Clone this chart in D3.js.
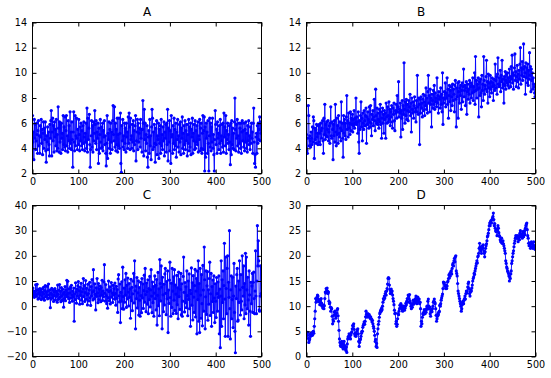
<!DOCTYPE html>
<html><head><meta charset="utf-8">
<script src="https://cdnjs.cloudflare.com/ajax/libs/d3/7.8.5/d3.min.js"></script>
<style>html,body{margin:0;padding:0;background:#fff}svg{display:block}</style>
</head><body>
<svg id="chart" width="551" height="378"></svg>
<script>
const titles = ["A","B","C","D"];
const xTicks = [0,100,200,300,400,500];
const yTicksA = [2,4,6,8,10,12,14];
const yTicksB = [2,4,6,8,10,12,14];
const yTicksC = [-20,-10,0,10,20,30,40];
const yTicksD = [0,5,10,15,20,25,30];

const seriesA = [
6.6,4.5,5.3,3.1,6.3,4.8,5.9,3.9,4.6,6.0,5.1,3.6,5.4,6.2,4.2,5.0,3.6,5.8,4.9,6.3,
4.4,5.5,3.5,5.2,6.1,4.0,5.6,4.7,6.1,3.8,2.9,5.0,4.5,5.7,3.9,5.3,4.3,3.4,5.9,4.8,
6.2,7.0,3.4,5.3,6.4,4.6,5.8,3.7,6.1,4.9,5.5,4.2,6.3,3.8,5.1,4.0,7.3,5.6,3.7,6.1,
4.5,5.9,3.6,6.0,4.8,5.2,3.9,6.6,4.3,5.7,4.1,6.5,3.8,5.4,6.6,4.2,5.0,3.7,6.2,4.6,
5.8,4.0,6.9,4.4,5.3,3.9,6.1,4.7,2.5,5.3,6.9,4.5,3.8,6.6,4.2,5.0,6.4,4.8,3.9,5.5,
4.3,6.3,5.1,3.8,5.7,4.6,6.0,4.2,5.4,3.9,5.8,4.4,6.1,4.9,3.8,5.2,4.5,6.0,4.0,7.2,
3.7,6.4,4.7,5.6,6.7,4.3,2.5,3.9,5.0,6.2,4.1,5.8,3.7,6.1,4.6,5.2,7.0,5.9,4.4,6.2,
3.9,5.3,4.8,6.0,2.8,5.6,3.6,5.1,6.3,4.5,4.0,5.7,4.1,6.0,3.8,5.4,4.9,6.2,4.3,5.0,
3.6,2.6,4.4,6.6,3.2,5.2,4.7,6.1,4.0,5.5,3.6,6.0,4.5,5.3,3.9,6.2,7.4,5.1,4.6,7.3,
4.1,6.0,3.8,5.5,4.3,6.4,3.7,5.1,4.2,6.4,4.0,5.2,6.8,2.8,2.1,5.8,4.6,6.3,4.1,5.0,
3.9,6.0,4.4,5.6,3.7,6.0,4.9,5.3,4.0,6.5,4.4,6.8,5.7,3.9,6.4,4.7,5.0,4.0,5.9,4.5,
6.2,3.8,5.4,4.3,5.8,6.6,3.0,4.6,5.3,6.3,3.9,6.0,4.5,5.2,5.6,4.1,6.3,4.8,5.5,3.7,
5.5,7.8,6.0,3.4,7.1,4.7,6.0,3.8,5.1,4.4,5.8,3.3,2.5,4.9,5.4,3.6,6.3,4.2,5.0,3.1,
5.7,7.1,6.4,3.9,5.3,4.1,5.9,4.4,2.9,5.6,4.3,6.2,3.5,5.0,4.7,6.0,3.2,5.5,4.4,5.8,
3.6,6.3,4.2,5.1,3.9,5.7,4.6,6.1,3.4,5.3,4.8,5.9,3.7,6.0,4.3,7.1,3.0,5.6,4.5,6.2,
3.8,5.4,2.8,6.6,4.9,5.1,3.6,5.8,4.4,6.4,3.9,5.5,4.2,6.0,3.3,5.3,4.7,6.3,4.1,5.0,
3.7,5.9,4.5,6.1,3.5,5.6,4.8,6.5,4.0,5.2,3.6,5.8,4.3,6.2,3.9,5.4,4.6,5.9,3.4,5.1,
4.4,6.3,3.8,5.7,4.1,6.0,3.5,5.5,4.9,6.4,3.6,5.2,4.6,5.9,3.9,6.2,4.0,5.4,4.5,5.8,
4.3,6.1,3.7,5.0,4.7,6.3,3.8,5.6,6.0,4.0,3.6,5.2,6.6,3.9,5.4,6.5,2.2,5.7,3.3,6.0,
4.8,5.3,3.6,6.2,4.4,2.2,5.0,6.4,4.1,6.0,3.8,5.7,4.5,6.4,4.0,5.1,3.5,2.2,4.7,7.0,
5.9,4.3,5.5,3.6,6.1,4.8,5.2,3.9,5.8,4.4,6.3,3.6,5.0,4.6,5.9,4.1,6.0,3.7,6.8,4.9,
5.7,4.2,6.6,3.6,5.4,4.7,6.0,4.4,5.1,3.9,5.8,4.5,2.7,6.0,3.5,6.2,4.3,5.6,4.0,5.2,
3.9,6.1,8.0,5.5,3.8,5.9,4.8,6.3,4.2,5.0,3.7,6.0,4.4,5.6,4.0,6.0,3.6,5.3,6.2,4.6,
5.4,4.1,6.0,3.8,5.5,4.5,6.1,4.0,5.2,3.7,5.8,4.6,6.2,4.3,5.0,3.9,5.7,4.4,6.0,4.8,
5.3,3.6,6.0,7.2,4.5,2.8,3.5,2.5,4.9,5.2,3.6,5.8,4.4,6.0,4.7,5.5,6.5,4.6,6.1,5.2
];

const seriesB = [
5.1,3.8,3.6,4.8,7.4,6.6,4.2,5.0,4.6,4.1,5.3,4.8,4.3,5.7,4.5,6.5,6.2,3.2,5.6,4.7,
5.5,4.4,5.9,4.9,5.2,4.3,5.8,4.5,5.9,5.2,4.3,6.0,5.4,4.8,5.6,6.2,4.6,3.6,6.4,5.1,
7.5,4.7,5.9,5.0,6.1,4.9,5.5,6.2,4.6,5.3,5.8,4.4,6.0,7.3,5.0,4.8,6.1,5.5,3.1,5.9,
5.0,6.2,4.5,7.5,5.3,4.2,6.4,5.1,5.8,4.4,6.6,5.2,4.9,6.1,5.6,4.6,7.7,5.4,6.0,4.8,
3.3,6.6,5.2,6.3,5.0,6.0,4.7,6.5,8.2,5.5,6.2,4.9,6.8,5.6,6.0,5.1,6.9,5.4,6.4,5.9,
6.7,5.3,6.3,5.8,7.0,5.6,6.4,6.0,8.0,5.9,6.5,6.1,5.2,6.9,4.5,3.6,6.2,5.5,6.6,7.7,
5.7,6.4,4.6,6.8,6.0,5.5,7.0,6.2,5.8,6.6,7.2,4.4,6.5,5.9,6.9,6.3,5.6,7.3,6.1,5.7,
7.4,6.0,5.0,6.7,6.3,7.0,5.8,6.5,7.9,6.2,5.4,8.7,6.6,6.0,7.2,5.9,6.8,6.3,5.6,7.1,
6.1,7.5,5.9,6.9,4.8,6.4,7.2,6.0,6.7,5.2,7.0,6.3,6.8,4.8,7.6,6.5,6.0,7.3,6.6,6.1,
7.7,6.3,7.1,5.8,6.9,6.5,7.4,6.1,5.6,7.2,6.7,7.6,6.2,5.4,7.0,6.8,7.5,6.4,8.2,6.9,
7.3,9.3,6.5,7.1,6.8,7.6,4.9,7.0,6.4,7.8,5.5,7.4,6.7,10.8,7.1,6.0,7.7,6.6,7.9,6.3,
7.5,7.0,6.2,7.8,6.9,7.3,8.3,6.6,7.6,5.3,8.0,7.1,6.8,7.7,6.4,7.4,8.1,6.9,7.2,6.1,
7.8,6.9,9.8,7.3,6.7,8.0,7.5,4.3,7.9,6.8,8.1,7.2,7.6,6.5,7.9,8.3,7.0,7.7,6.6,8.2,
7.4,8.8,7.1,8.0,6.8,8.5,9.8,7.6,8.2,6.9,8.7,7.5,8.0,5.7,8.3,7.8,7.2,8.6,7.5,9.0,
7.1,8.4,7.7,8.0,7.3,9.6,7.6,8.2,6.8,8.5,7.9,8.1,7.2,8.8,7.5,8.3,6.9,10.0,5.9,8.0,
7.6,8.5,7.9,9.2,7.3,8.4,8.0,9.6,7.5,8.7,6.4,8.2,9.0,7.7,8.6,7.0,8.9,8.1,7.4,9.1,
7.8,8.7,8.3,6.9,9.0,9.4,7.9,5.7,8.8,8.1,9.2,6.4,8.5,9.3,7.6,8.8,8.2,9.0,7.1,8.6,
9.2,7.7,8.9,10.3,8.1,8.6,9.0,7.4,8.8,9.3,6.7,8.5,9.1,7.9,8.7,8.3,9.4,7.6,8.9,9.2,
8.0,9.0,8.4,9.6,7.8,8.9,8.5,10.0,7.5,11.3,8.6,9.4,8.0,9.1,8.7,9.6,6.5,8.8,9.3,8.2,
9.5,8.4,7.3,9.8,8.6,9.1,7.8,11.3,9.4,8.3,9.0,8.7,9.7,11.0,8.5,9.3,7.6,9.9,8.8,9.2,
8.1,9.8,8.7,9.3,8.4,9.6,8.9,9.2,7.8,9.5,9.0,8.6,10.7,9.4,8.8,9.7,8.3,9.9,11.2,9.1,
8.9,9.6,9.0,10.2,8.5,9.8,9.3,11.0,8.8,9.5,9.1,7.6,9.7,9.0,10.1,8.7,9.4,9.9,9.2,10.0,
9.0,9.6,8.8,10.3,9.3,9.7,8.9,10.5,9.5,11.4,9.2,10.0,8.7,9.8,10.4,11.5,9.4,10.1,8.9,9.7,
10.6,9.3,9.9,8.8,10.2,9.5,10.7,12.0,9.1,10.4,9.8,10.9,9.4,10.3,12.3,9.7,10.5,10.0,8.3,10.8,
9.6,10.4,9.2,10.7,9.0,10.2,9.5,11.6,9.8,10.5,8.5,10.3,9.4,10.0,8.7,9.6,9.1,8.9,8.4,8.1
];

const seriesC = [
5.0,7.2,4.1,6.0,3.5,5.8,4.6,8.5,3.9,6.3,8.7,4.8,2.8,6.6,5.3,3.2,7.0,4.4,5.9,2.6,
6.8,4.0,5.5,3.1,7.5,4.9,2.4,6.2,8.2,3.7,5.6,4.3,7.9,2.9,6.0,8.8,4.5,3.3,6.4,-0.6,
5.2,2.8,7.1,4.6,3.4,6.5,1.9,5.8,4.2,7.0,2.5,6.1,3.9,5.4,1.6,8.4,4.7,2.7,6.3,8.6,
3.5,5.9,1.8,7.4,4.1,2.3,6.7,4.8,-0.4,5.5,3.0,7.8,2.2,6.4,4.5,10.3,3.7,9.9,5.1,2.9,
6.9,1.5,5.3,7.6,3.2,8.3,4.4,2.0,6.0,3.6,7.2,-6.0,4.9,2.6,9.3,5.7,1.2,6.8,4.0,8.1,
9.8,3.1,6.2,0.8,7.5,4.3,9.1,2.4,5.8,1.0,6.9,11.0,3.8,8.2,1.9,5.4,10.2,2.7,7.1,4.6,
0.5,8.7,5.0,2.1,6.4,9.5,3.3,0.3,7.8,4.1,10.6,5.6,2.5,14.5,6.1,3.0,8.9,4.7,-1.5,7.3,
3.9,11.0,5.2,1.4,9.0,2.6,6.8,4.0,8.0,1.8,7.4,4.4,10.3,2.3,6.0,3.7,9.6,16.5,5.1,2.0,
8.6,4.2,1.0,6.5,-0.8,3.4,10.0,5.8,2.2,7.7,0.9,6.2,9.4,3.6,5.3,1.5,8.3,4.5,7.0,2.8,
9.2,5.0,0.4,7.9,3.1,6.6,-2.5,10.8,12.5,4.1,1.7,8.8,-6.5,5.5,2.0,9.7,-1.0,15.5,3.8,-1.2,
7.2,1.6,10.5,4.4,13.0,-0.5,8.3,2.9,11.2,5.6,0.1,9.0,3.5,6.8,-4.8,10.7,2.2,7.5,-1.8,4.9,
9.9,13.0,1.3,18.0,6.1,-9.0,8.0,3.0,11.4,-0.7,5.3,10.1,-3.5,7.4,2.4,-4.0,9.5,4.2,-2.6,11.0,
3.3,8.8,-0.9,6.2,12.3,1.6,15.0,4.6,-2.2,9.2,5.8,0.8,10.5,-3.0,7.0,2.6,11.8,-0.3,6.5,14.5,
4.0,-2.6,9.6,1.4,7.8,-4.0,5.2,12.0,3.0,8.3,-1.5,10.6,-7.5,4.3,13.4,0.2,6.9,-3.8,18.5,9.0,
2.1,16.0,7.6,-9.0,11.5,4.5,-2.2,8.7,0.5,12.8,15.0,5.1,-3.4,9.8,2.9,14.0,-10.5,6.4,1.1,10.4,
17.5,3.4,-4.0,9.1,-0.5,15.0,6.0,-3.0,11.6,2.4,14.5,-1.7,8.4,4.8,-2.9,12.2,0.6,7.3,-5.0,13.5,
3.8,10.6,-1.3,6.7,13.0,-3.4,8.9,-4.0,2.0,11.8,19.5,5.5,-2.3,9.4,1.4,7.7,-0.6,14.0,4.2,-3.8,
10.0,2.7,12.8,-1.0,6.3,-8.0,5.0,15.2,0.4,9.3,-5.5,12.1,3.6,-2.5,8.2,14.6,-4.3,6.0,11.0,-11.0,
13.9,2.6,18.0,-6.0,9.0,-10.5,15.0,4.4,-4.8,12.5,1.0,-7.8,16.2,6.4,-2.0,23.5,10.5,-9.0,3.7,14.0,
-3.3,8.1,13.7,-5.6,6.5,0.8,11.0,17.5,-3.7,4.9,13.0,-8.0,7.8,1.9,10.4,-2.5,12.0,3.2,-6.5,8.9,
2.0,-4.5,11.4,5.0,-2.0,9.6,3.5,12.0,-11.0,6.8,-16.5,4.0,18.0,-8.0,10.5,1.5,14.0,-5.0,8.2,25.0,
2.8,-12.0,19.5,7.0,-3.0,15.0,20.0,-12.0,9.5,3.5,30.0,-1.0,-13.0,6.5,12.0,-5.0,2.6,11.5,-8.5,4.0,
17.0,-2.5,-10.0,-18.5,8.0,3.0,12.5,15.0,-6.0,-5.5,10.0,1.5,18.0,6.5,-3.5,12.5,2.0,-1.5,20.0,7.5,
4.0,16.0,-5.0,9.0,0.5,21.0,-3.0,19.5,6.5,-1.0,11.5,2.5,-7.5,14.0,4.5,-2.0,-12.0,9.5,1.0,8.0,
13.0,-2.5,9.5,13.5,3.0,-3.0,6.0,22.0,4.0,-3.0,10.0,32.0,16.0,26.0,18.0,-1.5,-2.0,4.0,16.0,5.0
];

const seriesD = [
4.5,4.8,4.2,4.8,3.6,2.8,3.2,3.5,4.4,4.0,4.5,4.7,4.3,4.2,4.9,5.0,4.6,6.0,7.5,9.0,
11.5,10.8,11.0,11.8,12.2,12.0,11.4,10.9,11.0,10.3,10.8,11.3,11.5,10.6,10.0,10.0,9.6,10.2,9.5,10.1,
11.5,12.8,12.6,13.5,13.0,13.6,13.0,12.5,12.8,11.0,10.5,10.7,9.8,9.0,9.7,9.5,8.0,6.5,7.3,7.0,
8.2,8.8,9.0,8.5,7.6,8.0,8.6,9.3,9.5,8.1,7.0,5.2,3.5,2.8,2.2,2.0,2.6,3.0,2.5,1.8,
1.5,2.4,3.0,2.2,1.9,1.5,1.2,1.9,0.8,2.5,3.5,3.9,4.0,4.5,4.0,3.6,3.5,4.3,4.7,4.9,
5.5,6.2,6.0,6.5,5.4,4.5,4.1,4.6,4.0,4.4,5.0,5.3,5.5,4.5,3.0,2.0,2.8,3.3,3.5,4.0,
4.6,5.0,5.0,5.8,6.2,6.5,6.9,6.4,7.0,7.9,9.0,8.4,7.8,8.0,8.5,8.2,7.9,8.3,8.0,7.6,
7.9,7.4,7.5,6.9,7.2,6.5,6.0,5.6,5.0,4.2,3.0,3.4,2.0,2.6,1.8,4.5,5.5,6.4,7.0,7.8,
8.5,8.8,9.2,9.0,9.6,9.3,10.0,10.8,11.5,11.3,12.0,11.6,12.5,12.9,12.2,13.0,13.5,14.4,15.5,15.7,
15.5,14.2,13.3,12.5,12.9,13.4,12.6,13.0,12.2,11.5,11.0,10.3,9.2,8.5,8.6,6.5,7.0,6.0,6.4,7.5,
8.5,8.3,9.0,9.5,10.2,9.7,10.5,10.2,9.6,9.3,9.0,9.4,10.0,9.5,9.2,9.6,10.0,10.6,10.3,11.0,
11.5,10.8,12.2,12.0,11.4,12.3,11.0,10.6,10.0,9.5,10.2,9.8,10.5,11.2,10.4,11.0,11.2,10.7,11.5,12.0,
11.3,10.5,11.0,11.8,11.5,10.9,11.4,10.5,10.8,9.5,6.0,7.0,6.5,7.8,8.5,8.3,8.8,9.3,9.0,8.5,
9.2,8.8,9.5,10.0,9.4,11.0,11.4,10.0,9.5,9.8,8.5,8.0,9.0,9.3,8.9,9.5,10.0,10.8,11.0,11.4,
10.8,10.5,9.5,8.2,7.0,7.5,8.0,8.5,8.3,8.8,9.0,10.2,10.0,10.5,11.2,11.6,12.0,12.4,13.5,14.8,
14.5,14.7,14.0,14.0,13.5,14.2,13.5,14.0,14.8,15.0,15.5,16.2,15.6,16.5,16.0,16.8,17.0,16.4,17.5,18.2,
18.5,18.0,19.0,19.5,18.8,19.8,20.0,17.0,16.5,16.0,14.5,13.0,12.5,12.0,11.5,11.0,10.5,10.0,9.0,9.5,
10.3,10.8,11.0,10.5,11.2,11.5,12.0,11.4,12.5,13.0,12.6,13.0,13.8,14.5,14.8,13.5,12.5,12.0,12.8,13.2,
13.0,13.6,14.2,15.0,15.5,15.8,16.5,16.3,17.0,17.5,18.0,18.5,19.0,18.6,19.8,20.0,20.5,21.5,22.5,21.8,
21.0,21.3,20.5,21.5,22.0,21.6,22.2,21.0,20.5,19.8,20.8,21.5,22.0,22.4,23.0,23.8,24.0,24.5,25.2,26.0,
26.5,26.0,26.8,27.0,26.5,27.2,27.5,27.8,28.5,27.2,26.0,26.4,25.5,25.0,24.8,25.3,24.0,25.0,26.0,25.5,
24.6,24.0,23.8,23.2,22.8,23.0,23.5,22.5,22.5,23.0,22.4,22.0,21.5,21.0,20.5,19.0,18.5,17.8,17.5,17.0,
16.8,16.5,16.0,15.0,15.8,15.5,16.4,17.0,18.5,19.0,19.8,20.5,21.0,21.8,22.5,23.0,23.5,24.0,23.6,23.5,
24.0,23.5,22.8,23.6,24.0,23.2,24.5,25.0,24.3,23.8,24.0,23.5,24.8,24.5,23.8,24.6,25.0,24.2,25.5,26.0,
26.3,26.5,25.2,24.0,23.5,22.5,22.0,22.6,22.0,21.5,22.3,22.8,22.5,21.8,21.5,22.2,22.8,22.0,21.5,21.3
];

const panels = [
  {title: titles[0], data: seriesA, yTicks: yTicksA, box: {l: 32, r: 261, t: 22, b: 173}},
  {title: titles[1], data: seriesB, yTicks: yTicksB, box: {l: 306, r: 535, t: 22, b: 173}},
  {title: titles[2], data: seriesC, yTicks: yTicksC, box: {l: 32, r: 261, t: 205, b: 356}},
  {title: titles[3], data: seriesD, yTicks: yTicksD, box: {l: 306, r: 535, t: 205, b: 356}}
];

const svg = d3.select("#chart");
const font = "'DejaVu Sans', sans-serif";
const color = "#0000ff";
const tickLen = 4;

panels.forEach((p, k) => {
  const b = p.box;
  const x = d3.scaleLinear().domain([xTicks[0], xTicks[xTicks.length-1]]).range([b.l + 0.5, b.r + 0.5]);
  const y = d3.scaleLinear().domain([p.yTicks[0], p.yTicks[p.yTicks.length-1]]).range([b.b + 0.5, b.t + 0.5]);
  const g = svg.append("g");

  const clipId = "clip" + k;
  svg.append("clipPath").attr("id", clipId).append("rect")
    .attr("x", b.l + 0.5).attr("y", b.t + 0.5).attr("width", b.r - b.l).attr("height", b.b - b.t);

  const plot = g.append("g").attr("clip-path", `url(#${clipId})`);
  const line = d3.line().x((d, i) => x(i)).y(d => y(d));
  plot.append("path").datum(p.data).attr("d", line)
    .attr("fill", "none").attr("stroke", color).attr("stroke-width", 0.9);
  plot.append("g").selectAll("circle").data(p.data).join("circle")
    .attr("cx", (d, i) => x(i)).attr("cy", d => y(d)).attr("r", 1.6)
    .attr("fill", color).attr("stroke", "none");

  const xb = d3.axisBottom(x).tickValues(xTicks).tickSize(-tickLen).tickPadding(5).tickFormat(d3.format("d"));
  const xt = d3.axisTop(x).tickValues(xTicks).tickSize(-tickLen).tickFormat("");
  const yl = d3.axisLeft(y).tickValues(p.yTicks).tickSize(-tickLen).tickPadding(5.5)
    .tickFormat(d => d < 0 ? "\u2212" + Math.abs(d) : String(d));
  const yr = d3.axisRight(y).tickValues(p.yTicks).tickSize(-tickLen).tickFormat("");

  const axes = [
    g.append("g").attr("transform", `translate(0,${b.b + 0.5})`).call(xb),
    g.append("g").attr("transform", `translate(0,${b.t + 0.5})`).call(xt),
    g.append("g").attr("transform", `translate(${b.l + 0.5},0)`).call(yl),
    g.append("g").attr("transform", `translate(${b.r + 0.5},0)`).call(yr)
  ];
  axes.forEach(a => {
    a.select(".domain").remove();
    a.selectAll("line").attr("stroke", "#000").attr("stroke-width", 1);
    a.selectAll("text").attr("font-family", font).attr("font-size", 9.6).attr("fill", "#000");
  });

  g.append("rect").attr("x", b.l + 0.5).attr("y", b.t + 0.5)
    .attr("width", b.r - b.l).attr("height", b.b - b.t)
    .attr("fill", "none").attr("stroke", "#000").attr("stroke-width", 1);

  g.append("text").attr("x", (b.l + b.r) / 2 + 0.5).attr("y", b.t - 6)
    .attr("text-anchor", "middle").attr("font-family", font).attr("font-size", 12)
    .attr("fill", "#000").text(p.title);
});
</script>
</body></html>
